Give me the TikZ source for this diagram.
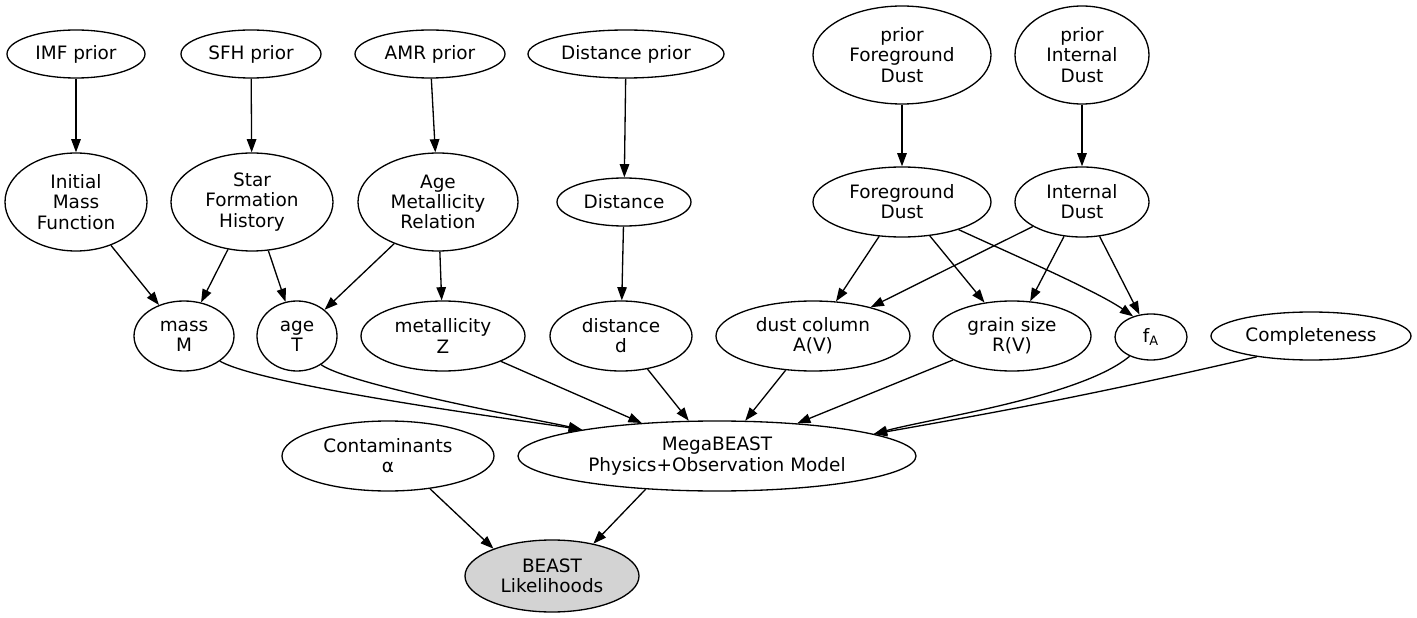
\documentclass[tikz,border=0pt]{standalone}
\usepackage{fontspec}
\setmainfont{DejaVu Sans}
\usepackage{xcolor}
\usepackage{tikz}
\definecolor{likegray}{HTML}{D3D3D3}
\usetikzlibrary{shapes.geometric, arrows.meta}
\tikzset{
	ell/.style 2 args = {draw, ellipse, inner sep=0pt, align=center, line width=0.75pt,
		minimum width=#1*0.02cm, minimum height=#2*0.02cm,
		font=\fontsize{10.5}{11.5}\selectfont},
	edge/.style = {line width=0.75pt, -{Triangle[length=7.5pt, width=5.4pt]}}
}

\begin{document}
\begin{tikzpicture}[x=0.02cm, y=-0.02cm]
			\useasboundingbox (0,0) rectangle (1417,618);
			% priors
			\node[ell={138}{48}] (imfp) at (76,54) {IMF prior};
			\node[ell={140}{48}] (sfhp) at (251,54) {SFH prior};
			\node[ell={150}{48}] (amrp) at (430,54) {AMR prior};
			\node[ell={196}{48}] (distp) at (626,54) {Distance prior};
			\node[ell={178}{98}] (fgp) at (902,55) {prior\\Foreground\\Dust};
			\node[ell={134}{98}] (intp) at (1082,55) {prior\\Internal\\Dust};
			
			\node[ell={142}{98}] (imf) at (76,202) {Initial\\Mass\\Function};
			\node[ell={162}{98}] (sfh) at (252,202) {Star\\Formation\\History};
			\node[ell={160}{98}] (amr) at (438,202) {Age\\Metallicity\\Relation};
			\node[ell={134}{48}] (dist) at (624,202) {Distance};
			\node[ell={178}{70}] (fg) at (902,202) {Foreground\\Dust};
			\node[ell={134}{70}] (int) at (1082,202) {Internal\\Dust};
			
			\node[ell={100}{70}] (mass) at (184,336) {mass\\M};
			\node[ell={80}{70}] (age) at (297,336) {age\\T};
			\node[ell={164}{70}] (met) at (443,336) {metallicity\\Z};
			\node[ell={142}{70}] (distd) at (621,336) {distance\\d};
			\node[ell={194}{70}] (av) at (813,336) {dust column\\A(V)};
			\node[ell={158}{70}] (rv) at (1012,336) {grain size\\R(V)};
			\node[ell={72}{46}] (fa) at (1151,337) {f\textsubscript{A}};
			\node[ell={200}{48}] (comp) at (1311,336) {Completeness};
			
			\node[ell={212}{70}] (cont) at (388,456) {Contaminants\\α};
			\node[ell={398}{70}] (mega) at (717,456) {MegaBEAST\\Physics+Observation Model};
			\node[ell={174}{72}, fill=likegray] (beast) at (552,576) {BEAST\\Likelihoods};
			
			\draw[edge] (imfp) -- (imf);
			\draw[edge] (sfhp) -- (sfh);
			\draw[edge] (amrp) -- (amr);
			\draw[edge] (distp) -- (dist);
			\draw[edge] (fgp) -- (fg);
			\draw[edge] (intp) -- (int);
			
			\draw[edge] (imf) -- (mass);
			\draw[edge] (sfh) -- (mass);
			\draw[edge] (sfh) -- (age);
			\draw[edge] (amr) -- (age);
			\draw[edge] (amr) -- (met);
			\draw[edge] (dist) -- (distd);
			\draw[edge] (fg) -- (av);
			\draw[edge] (fg) -- (rv);
			\draw[edge] (fg.-26) to[out=-25, in=145, looseness=0.6] (fa.131);
			\draw[edge] (int) -- (av);
			\draw[edge] (int) -- (rv);
			\draw[edge] (int) -- (fa);
			
			% into the model
			\draw[edge] (mass.-35) to[out=-30, in=171, looseness=0.35] (mega.169);
			\draw[edge] (age.-50) to[out=-35, in=167, looseness=0.35] (mega.169);
			\draw[edge] (met) -- (mega);
			\draw[edge] (distd) -- (mega);
			\draw[edge] (av) -- (mega);
			\draw[edge] (rv) -- (mega);
			\draw[edge] (fa.222) to[out=-140, in=15, looseness=0.6] (mega.8);
			\draw[edge] (comp.201) to[out=193, in=10] (mega.8);
			
			\draw[edge] (cont.-38) -- (beast.155);
			\draw[edge] (mega.205) -- (beast.38);
			
			%	\draw[edge] (mega) -- (beast);
\end{tikzpicture}
\end{document}
